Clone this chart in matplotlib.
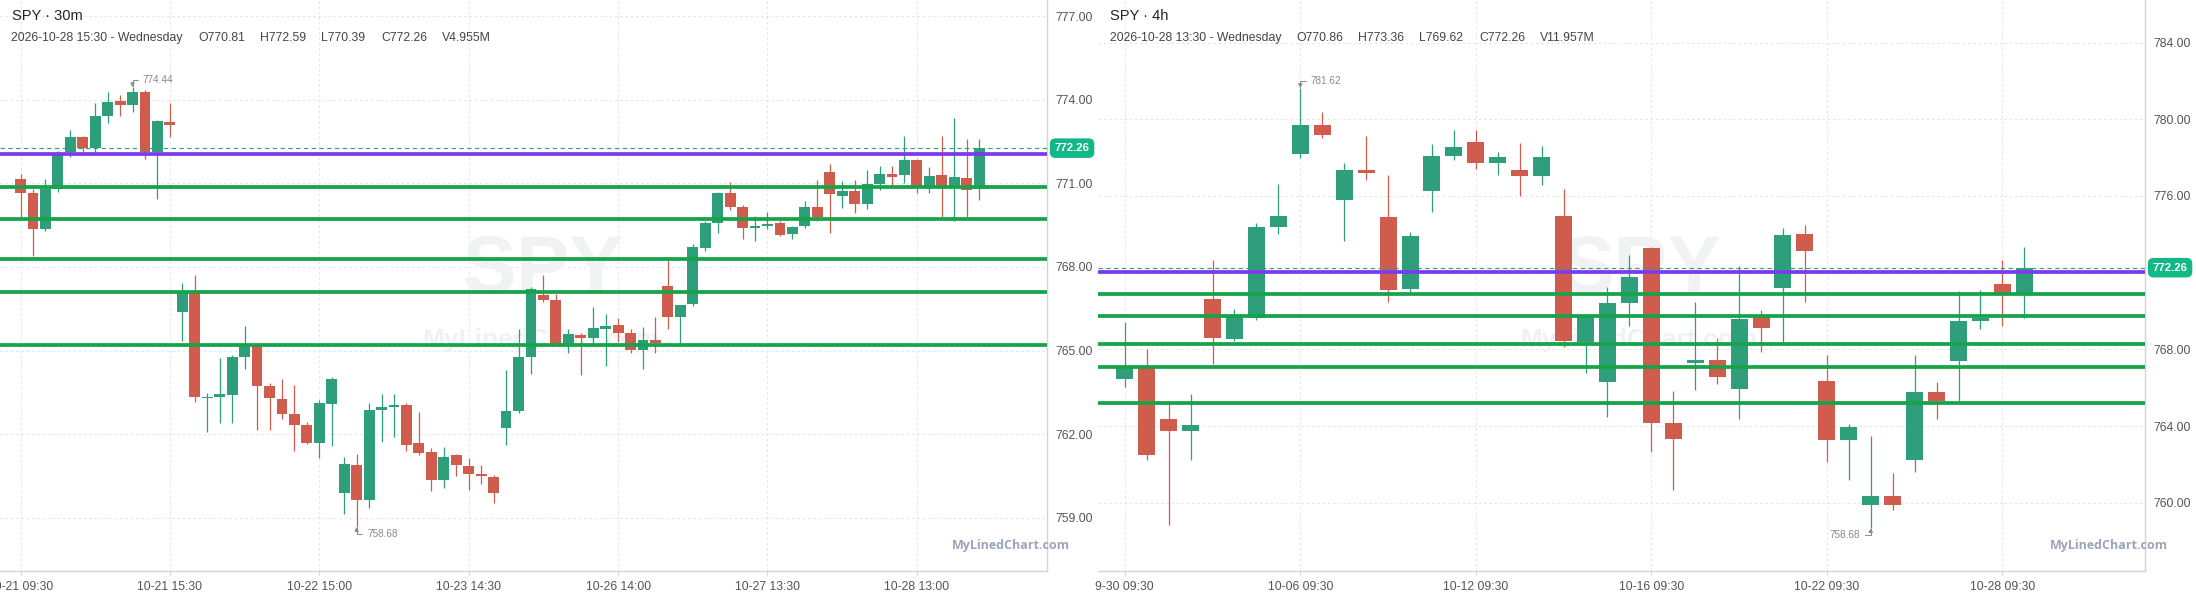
import matplotlib
matplotlib.use("Agg")
import matplotlib.pyplot as plt
import matplotlib.transforms as mtransforms

plt.rcParams['font.family'] = ['Liberation Sans', 'DejaVu Sans']

# ---------------- data: SPY 30m ----------------
m30_open = [771.15, 770.65, 769.36, 770.79, 772.12, 772.66, 772.28, 773.42, 773.95, 773.82,
            774.27, 772.13, 773.20, 766.37, 767.07, 763.31, 763.34, 763.42, 764.78, 765.16,
            763.73, 763.26, 762.72, 762.33, 761.69, 763.09, 759.90, 760.90, 759.64, 762.87,
            762.98, 763.05, 761.70, 761.36, 760.37, 761.25, 760.86, 760.57, 760.47, 762.24,
            762.83, 764.77, 766.99, 766.81, 765.24, 765.56, 765.46, 765.79, 765.92, 765.63,
            765.03, 765.38, 767.32, 766.20, 766.67, 768.68, 769.58, 770.65, 770.15, 769.41,
            769.48, 769.56, 769.19, 769.45, 770.15, 771.40, 770.55, 770.72, 770.24, 770.99,
            771.33, 771.28, 771.84, 770.92, 771.29, 770.91, 771.20, 770.81]
m30_high = [771.33, 770.78, 771.15, 772.17, 772.91, 772.71, 773.88, 774.27, 774.16, 774.44,
            774.34, 773.27, 773.88, 767.42, 767.71, 763.48, 764.73, 764.84, 765.88, 765.19,
            763.83, 763.98, 763.76, 762.44, 763.22, 764.05, 761.17, 761.29, 763.11, 763.44,
            763.44, 763.11, 762.80, 761.51, 761.54, 761.29, 761.15, 760.90, 760.54, 764.30,
            765.77, 767.29, 767.71, 767.03, 765.77, 765.63, 766.56, 766.31, 766.17, 765.77,
            765.85, 766.20, 768.36, 766.63, 768.82, 769.66, 770.70, 771.05, 770.23, 769.83,
            769.97, 769.65, 769.48, 770.36, 771.12, 771.69, 771.09, 771.12, 771.48, 771.62,
            771.62, 772.68, 771.86, 771.57, 772.71, 773.34, 772.59, 772.59]
m30_low = [769.80, 768.40, 769.30, 770.70, 771.95, 772.13, 772.13, 773.17, 773.42, 773.57,
           771.88, 770.45, 772.66, 765.35, 763.17, 762.09, 762.41, 762.41, 764.35, 762.16,
           762.16, 762.56, 761.41, 761.66, 761.16, 761.59, 759.14, 758.68, 759.37, 761.73,
           761.91, 761.41, 761.27, 759.97, 760.08, 760.51, 760.01, 760.23, 759.55, 761.62,
           762.77, 764.16, 766.74, 765.19, 764.91, 764.12, 765.26, 764.45, 765.31, 764.92,
           764.35, 764.92, 765.77, 765.26, 766.60, 768.57, 769.23, 770.04, 769.01, 768.94,
           769.35, 769.12, 769.01, 769.41, 769.63, 769.23, 770.13, 769.95, 770.09, 770.77,
           770.94, 771.02, 770.65, 770.65, 769.79, 769.63, 769.79, 770.39]
m30_close = [770.66, 769.36, 770.81, 772.01, 772.66, 772.28, 773.41, 773.91, 773.82, 774.27,
             772.13, 773.23, 773.09, 767.07, 763.34, 763.34, 763.44, 764.77, 765.16, 763.74,
             763.31, 762.73, 762.34, 761.69, 763.12, 763.98, 760.93, 759.64, 762.87, 762.98,
             763.05, 761.62, 761.34, 760.37, 761.18, 760.91, 760.58, 760.51, 759.90, 762.83,
             764.77, 767.21, 766.81, 765.24, 765.59, 765.46, 765.81, 765.88, 765.64, 765.03,
             765.38, 765.26, 766.20, 766.63, 768.71, 769.58, 770.65, 770.16, 769.41, 769.46,
             769.54, 769.16, 769.44, 770.15, 769.79, 770.60, 770.72, 770.24, 770.98, 771.33,
             771.24, 771.84, 770.92, 771.26, 770.92, 771.22, 770.77, 772.26]
m30_tick_idx = [0, 12, 24, 36, 48, 60, 72]
m30_tick_labels = ["10-21 09:30", "10-21 15:30", "10-22 15:00", "10-23 14:30",
                   "10-26 14:00", "10-27 13:30", "10-28 13:00"]
m30_yticks = [759, 762, 765, 768, 771, 774, 777]
m30_info = ["2026-10-28 15:30 - Wednesday", "O770.81", "H772.59", "L770.39", "C772.26", "V4.955M"]

# ---------------- data: SPY 4h ----------------
h4_open = [766.47, 767.06, 764.37, 763.76, 770.63, 768.56, 769.65, 774.40, 778.21, 779.70,
           775.81, 777.35, 774.90, 771.17, 776.28, 778.10, 778.82, 777.74, 777.35, 777.06,
           774.95, 768.40, 766.31, 770.43, 773.29, 764.16, 767.30, 767.44, 765.95, 769.67,
           771.22, 774.02, 766.36, 763.28, 759.90, 760.36, 762.25, 765.78, 767.37, 769.50,
           771.43, 770.86]
h4_high = [769.42, 768.02, 765.19, 765.67, 772.66, 770.10, 774.59, 776.62, 781.62, 780.38,
           777.72, 779.13, 777.09, 774.12, 778.71, 779.44, 779.44, 778.29, 778.76, 778.61,
           776.36, 769.75, 771.25, 772.92, 773.35, 765.83, 770.47, 768.59, 772.35, 770.05,
           774.33, 774.49, 767.71, 764.08, 763.50, 761.55, 767.71, 766.32, 771.05, 771.11,
           772.68, 773.36]
h4_low = [766.05, 762.23, 758.85, 762.23, 767.24, 768.43, 769.55, 774.02, 778.00, 779.04,
          773.65, 776.85, 770.49, 771.01, 775.18, 777.89, 777.42, 777.09, 776.02, 776.59,
          768.14, 766.78, 764.49, 769.24, 762.66, 760.68, 765.90, 766.21, 764.35, 767.88,
          768.40, 770.49, 762.11, 761.16, 758.68, 759.61, 761.61, 764.39, 765.33, 769.04,
          769.24, 769.62]
h4_close = [767.06, 762.49, 763.76, 764.04, 768.61, 769.70, 774.38, 774.95, 779.70, 779.20,
            777.35, 777.22, 771.11, 773.91, 778.08, 778.55, 777.74, 778.03, 777.06, 778.03,
            768.45, 769.67, 770.42, 771.77, 764.17, 763.34, 767.44, 766.57, 769.58, 769.13,
            773.97, 773.15, 763.28, 763.96, 760.36, 759.90, 765.78, 765.29, 769.50, 769.64,
            770.93, 772.26]
h4_tick_idx = [0, 8, 16, 24, 32, 40]
h4_tick_labels = ["9-30 09:30", "10-06 09:30", "10-12 09:30", "10-16 09:30",
                  "10-22 09:30", "10-28 09:30"]
h4_yticks = [760, 764, 768, 772, 776, 780, 784]
h4_info = ["2026-10-28 13:30 - Wednesday", "O770.86", "H773.36", "L769.62", "C772.26", "V11.957M"]

# shared levels
last_price = 772.26
purple_level = 772.06
green_levels = [770.88, 769.72, 768.28, 767.10, 765.21]

# ---------------- styles ----------------
UP = "#2e9f7a"
DOWN = "#d05c4d"
GREEN_LINE = "#16a34a"
PURPLE = "#7c3aed"
TAG = "#12b886"
GRID = "#e6e6e6"
AXIS = "#d9d3cb"
TXT = "#555555"

W, H = 2196, 597
fig = plt.figure(figsize=(W / 100, H / 100), dpi=100)
fig.patch.set_facecolor("white")


def px(x):
    return x / W


def py(y):
    return 1 - y / H


def draw_panel(left_px, xlim, ylim, o, h, l, c, body_w, min_h, tick_idx, tick_labels,
               yticks, ylabels, title, info, info_x, max_i, min_i, min_side):
    ax = fig.add_axes([px(left_px), 26 / H, 1047 / W, 571 / H])
    ax.set_xlim(*xlim)
    ax.set_ylim(*ylim)
    ax.set_facecolor("white")
    for s in ("top", "left"):
        ax.spines[s].set_visible(False)
    for s in ("right", "bottom"):
        ax.spines[s].set_color(AXIS)
        ax.spines[s].set_linewidth(1.0)
    ax.yaxis.tick_right()
    ax.set_yticks(yticks)
    ax.set_yticklabels(ylabels)
    ax.set_xticks(tick_idx)
    ax.set_xticklabels(tick_labels)
    ax.tick_params(axis="y", length=0, pad=6, labelsize=8.7, labelcolor=TXT)
    ax.tick_params(axis="x", length=3, width=0.8, color=AXIS, pad=4, labelsize=8.7,
                   labelcolor=TXT)
    for t in yticks:
        ax.axhline(t, color=GRID, lw=0.75, ls=(0, (2.5, 2.5)), zorder=0)
    for t in tick_idx:
        ax.axvline(t, color=GRID, lw=0.75, ls=(0, (2.5, 2.5)), zorder=0)

    # watermarks
    ax.text(0.519, 0.524, "SPY", transform=ax.transAxes, ha="center", va="center",
            fontsize=58, fontweight="bold", color="#f1f2f4", zorder=0.5)
    ax.text(0.517, 0.404, "MyLinedChart.com", transform=ax.transAxes, ha="center",
            va="center", fontsize=19, fontweight="bold", color="#eff1f4", zorder=0.5)

    n = len(o)
    xs = list(range(n))
    cols = [UP if c[i] >= o[i] else DOWN for i in xs]
    bottoms = [min(o[i], c[i]) for i in xs]
    heights = [max(abs(c[i] - o[i]), min_h) for i in xs]
    ax.vlines(xs, l, h, colors=cols, lw=0.9, zorder=2)
    ax.bar(xs, heights, bottom=bottoms, width=body_w, color=cols, edgecolor="none",
           zorder=3)

    # levels
    for g in green_levels:
        ax.axhline(g, color=GREEN_LINE, lw=2.7, zorder=4)
    ax.axhline(purple_level, color=PURPLE, lw=2.7, zorder=4)
    ax.axhline(last_price, color=UP, lw=0.8, ls=(0, (4, 3)), zorder=4.5)

    # price tag
    ax.annotate(f"{last_price:.2f}", xy=(1.0, last_price),
                xycoords=mtransforms.blended_transform_factory(ax.transAxes, ax.transData),
                xytext=(5.5, 0), textcoords="offset points", ha="left", va="center",
                fontsize=8.2, fontweight="bold", color="white", annotation_clip=False,
                bbox=dict(boxstyle="round,pad=0.42,rounding_size=0.5", fc=TAG, ec="none"))

    # max / min markers
    gray = "#8a8a8a"
    ax.annotate("", xy=(max_i, h[max_i]), xytext=(4, 5), textcoords="offset points",
                arrowprops=dict(arrowstyle="-|>,head_length=0.25,head_width=0.12",
                                color=gray, lw=0.7, shrinkA=0, shrinkB=0,
                                connectionstyle="angle,angleA=0,angleB=90,rad=0"))
    ax.annotate(f"{h[max_i]:.2f}", xy=(max_i, h[max_i]), xytext=(7.5, 5),
                textcoords="offset points", ha="left", va="center", fontsize=7.2,
                color=gray)
    ax.annotate("", xy=(min_i, l[min_i]), xytext=(4 * min_side, -5),
                textcoords="offset points",
                arrowprops=dict(arrowstyle="-|>,head_length=0.25,head_width=0.12",
                                color=gray, lw=0.7, shrinkA=0, shrinkB=0,
                                connectionstyle="angle,angleA=0,angleB=90,rad=0"))
    ax.annotate(f"{l[min_i]:.2f}", xy=(min_i, l[min_i]), xytext=(7.5 * min_side, -5),
                textcoords="offset points", ha="left" if min_side > 0 else "right",
                va="center", fontsize=7.2, color=gray)

    # header
    fig.text(px(left_px + 12), py(16), title, ha="left", va="center", fontsize=10.5,
             color="#222222")
    for s, xx in zip(info, info_x):
        fig.text(px(left_px + xx), py(38), s, ha="left", va="center", fontsize=8.8,
                 color="#444444")
    # bottom-right watermark
    fig.text(px(left_px + 1070), py(546), "MyLinedChart.com", ha="right", va="center",
             fontsize=9, fontweight="bold", color="#9ba5b9", family="Open Sans")
    return ax


draw_panel(0, (-1.647, 82.45), (757.093, 777.574), m30_open, m30_high, m30_low, m30_close,
           0.87, 0.04, m30_tick_idx, m30_tick_labels, m30_yticks,
           [f"{v:.2f}" for v in m30_yticks], "SPY · 30m", m30_info,
           [11, 198, 260, 321, 381, 442], 9, 27, 1)

draw_panel(1098, (-1.2215, 46.50), (756.437, 786.223), h4_open, h4_high, h4_low, h4_close,
           0.775, 0.06, h4_tick_idx, h4_tick_labels, h4_yticks,
           ["" if v == 772 else f"{v:.2f}" for v in h4_yticks], "SPY · 4h", h4_info,
           [12, 198, 260, 321, 381, 442], 8, 34, -1)

fig.savefig("out.png", dpi=100, facecolor="white")
